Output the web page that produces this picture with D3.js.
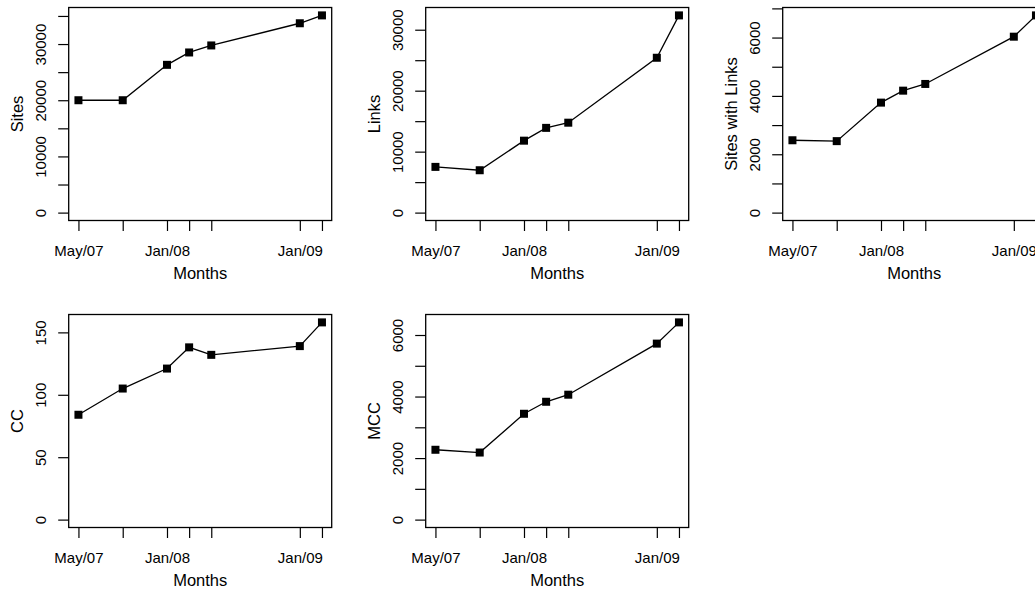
<!DOCTYPE html>
<html>
<head>
<meta charset="utf-8">
<script src="https://cdn.jsdelivr.net/npm/d3@7"></script>
<style>
  html, body { margin: 0; padding: 0; background: #fff; }
  svg { display: block; font-family: "Liberation Sans", Arial, Helvetica, sans-serif; }
</style>
</head>
<body>
<svg id="chart" width="1035" height="592"></svg>
<script>
// Survey months, as months elapsed since May 2007
const monthOffset = [0, 4, 8, 10, 12, 20, 22];
const monthTickLabels = ["May/07", "", "Jan/08", "", "", "Jan/09", ""];

// Series values per survey month
const sites          = [20000, 20000, 26300, 28500, 29750, 33700, 35100];
const links          = [7500, 6950, 11800, 13900, 14750, 25400, 32350];
const sitesWithLinks = [2480, 2450, 3770, 4180, 4410, 6030, 6760];
const cc             = [84, 105, 121, 138, 132, 139, 158];
const mcc            = [2270, 2180, 3440, 3830, 4060, 5720, 6410];

// Y axis titles
const yTitles = ["Sites", "Links", "Sites with Links", "CC", "MCC"];

// Y tick positions and the subset that carries a label
const yTicks = [
  [0, 5000, 10000, 15000, 20000, 25000, 30000, 35000],
  [0, 5000, 10000, 15000, 20000, 25000, 30000],
  [0, 1000, 2000, 3000, 4000, 5000, 6000, 7000],
  [0, 50, 100, 150],
  [0, 1000, 2000, 3000, 4000, 5000, 6000]
];
const yTickLabels = [
  [0, 10000, 20000, 30000],
  [0, 10000, 20000, 30000],
  [0, 2000, 4000, 6000],
  [0, 50, 100, 150],
  [0, 2000, 4000, 6000]
];

const series = [sites, links, sitesWithLinks, cc, mcc];

const svg = d3.select("#chart");

// Panel grid (2 rows x 3 columns, filled by row)
const colLeft = [68.7, 425.7, 782.7];
const rowTop = [7.5, 314.5];
const plotW = 263;
const plotH = 213;
const tickLen = 10.5;
const tickFont = 15;
const titleFont = 16.5;

series.forEach((vals, i) => {
  const col = i % 3, row = Math.floor(i / 3);
  const left = colLeft[col], top = rowTop[row];
  const g = svg.append("g").attr("transform", `translate(${left},${top})`);

  // Axis ranges padded by 4% on each side
  const xMin = d3.min(monthOffset), xMax = d3.max(monthOffset);
  const xPad = (xMax - xMin) * 0.04;
  const x = d3.scaleLinear().domain([xMin - xPad, xMax + xPad]).range([0, plotW]);
  const yMax = d3.max(vals);
  const yPad = yMax * 0.04;
  const y = d3.scaleLinear().domain([-yPad, yMax + yPad]).range([plotH, 0]);

  // Bottom axis
  const xAxis = d3.axisBottom(x)
    .tickValues(monthOffset)
    .tickSize(tickLen)
    .tickPadding(0)
    .tickFormat((d, k) => monthTickLabels[k]);
  const xg = g.append("g").attr("transform", `translate(0,${plotH})`).call(xAxis);
  xg.select(".domain").remove();
  xg.selectAll(".tick line").attr("stroke", "#000").attr("stroke-width", 1.2);
  xg.selectAll(".tick text")
    .attr("y", 35.5).attr("dy", null)
    .attr("fill", "#000")
    .style("font-size", tickFont + "px")
    .style("font-family", "Liberation Sans, Arial, sans-serif");

  // Left axis, labels set parallel to the axis
  const labelSet = new Set(yTickLabels[i]);
  const yAxis = d3.axisLeft(y)
    .tickValues(yTicks[i])
    .tickSize(tickLen)
    .tickFormat(d => labelSet.has(d) ? String(d) : "");
  const yg = g.append("g").call(yAxis);
  yg.select(".domain").remove();
  yg.selectAll(".tick line").attr("stroke", "#000").attr("stroke-width", 1.2);
  yg.selectAll(".tick text")
    .attr("x", null).attr("dy", null)
    .attr("transform", "translate(-22.7,0) rotate(-90)")
    .attr("text-anchor", "middle")
    .attr("fill", "#000")
    .style("font-size", tickFont + "px")
    .style("font-family", "Liberation Sans, Arial, sans-serif");

  // Plot box
  g.append("rect")
    .attr("x", 0).attr("y", 0)
    .attr("width", plotW).attr("height", plotH)
    .attr("fill", "none").attr("stroke", "#000").attr("stroke-width", 1.3);

  // Series line and square markers
  const pts = monthOffset.map((m, k) => [m, vals[k]]);
  g.append("path")
    .datum(pts)
    .attr("fill", "none").attr("stroke", "#000").attr("stroke-width", 1.3)
    .attr("d", d3.line().x(d => x(d[0])).y(d => y(d[1])));
  const s = 8;
  g.selectAll("rect.pt").data(pts).join("rect")
    .attr("class", "pt")
    .attr("x", d => x(d[0]) - s / 2).attr("y", d => y(d[1]) - s / 2)
    .attr("width", s).attr("height", s).attr("fill", "#000");

  // Axis titles
  g.append("text")
    .attr("x", plotW / 2).attr("y", plotH + 58.5)
    .attr("text-anchor", "middle")
    .style("font-size", titleFont + "px")
    .text("Months");
  g.append("text")
    .attr("transform", `translate(-45.7,${plotH / 2}) rotate(-90)`)
    .attr("text-anchor", "middle")
    .style("font-size", titleFont + "px")
    .text(yTitles[i]);
});
</script>
</body>
</html>
